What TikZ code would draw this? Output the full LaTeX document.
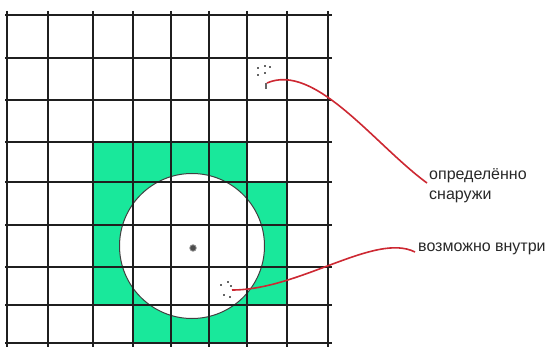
\documentclass[tikz,border=0pt]{standalone}
\usepackage{fontspec}
\setmainfont{Liberation Sans}
\definecolor{cellgreen}{RGB}{25,232,155}
\definecolor{curvered}{RGB}{205,40,50}
\definecolor{inkgray}{RGB}{40,40,40}
\begin{document}
\begin{tikzpicture}[x=1pt,y=-1pt,
  gridline/.style={line width=2.6pt, draw=black!88},
  ringline/.style={line width=1pt, draw=black!75},
  pointer/.style={line width=1.6pt, draw=curvered},
  speck/.style={fill=black!60, draw=none},
  lbl/.style={font=\fontsize{16}{20}\selectfont, text=inkgray, inner sep=0pt, anchor=base west}]
\useasboundingbox (0,0) rectangle (554,347);
\fill[white] (0,0) rectangle (554,347);
% green cells along the circle
\fill[cellgreen] (93,142) -- (247,142) -- (247,182) -- (287,182) -- (287,305)
  -- (247,305) -- (247,343) -- (133,343) -- (133,305) -- (93,305) -- cycle;
% white disc with thin outline
\filldraw[ringline, fill=white] (192,246) circle[x radius=72.5pt, y radius=72.5pt];
% grid
\foreach \gx in {7,48,93,133,171,209,247,287,328}
  \draw[gridline] (\gx,11) -- (\gx,347);
\foreach \gy in {15,58,100,142,182,225,267,305,343}
  \draw[gridline] (5,\gy) -- (332,\gy);
% grid segments inside the disc
\draw[gridline] (133,180) -- (133,312);
\draw[gridline] (171,172) -- (171,320);
\draw[gridline] (209,172) -- (209,320);
\draw[gridline] (247,190) -- (247,305);
\draw[gridline] (125,182) -- (260,182);
\draw[gridline] (118,225) -- (266,225);
\draw[gridline] (118,267) -- (266,267);
\draw[gridline] (140,305) -- (245,305);
% center point
\node[circle, fill=black!70, draw=black!45, line width=0.8pt, minimum size=6.5pt, inner sep=0pt] (ctr) at (193,248) {};
% specks (sample points) outside
\foreach \sx/\sy in {258/68,265/66,270/67,258/75,265/73}
  \fill[speck] (\sx-1,\sy-1) rectangle (\sx+1.2,\sy+1.2);
\fill[speck] (264.5,83) rectangle (267,89);
% specks inside
\foreach \sx/\sy in {221/285,228/282,231/286,224/295,230/297}
  \fill[speck] (\sx-1,\sy-1) rectangle (\sx+1.2,\sy+1.2);
% labels
\node[lbl] (outA) at (429,179.5) {определённо};
\node[lbl] (outB) at (429,199.5) {снаружи};
\node[lbl] (inA) at (418,251.5) {возможно внутри};
% pointers
\coordinate (s1) at (267,83);
\coordinate (e1) at (427,183);
\coordinate (s2) at (232,290);
\coordinate (e2) at (415,252);
\draw[pointer] (s1) .. controls (315,62) and (375,145) .. (e1);
\draw[pointer] (s2) .. controls (300,290) and (375,232) .. (e2);
\end{tikzpicture}
\end{document}
